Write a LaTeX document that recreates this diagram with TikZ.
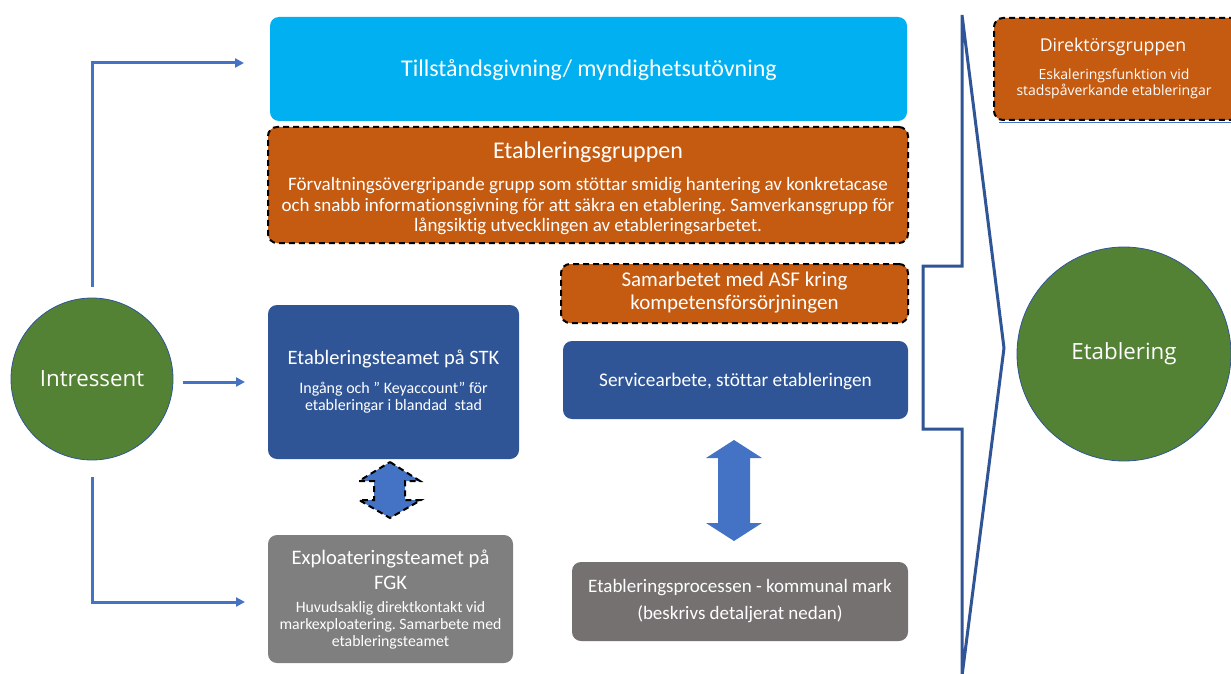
\documentclass[tikz,border=0pt]{standalone}
\usepackage{fontspec}
\setmainfont{Carlito}[Ligatures=NoCommon]
\newfontfamily\vfont{Open Sans}
\usetikzlibrary{arrows.meta}
\definecolor{cyanbox}{HTML}{00B0F0}
\definecolor{orangebox}{HTML}{C55A11}
\definecolor{darkblue}{HTML}{2F5597}
\definecolor{midblue}{HTML}{4472C4}
\definecolor{greybox}{HTML}{7F7F7F}
\definecolor{darkgrey}{HTML}{767171}
\definecolor{leafgreen}{HTML}{548235}
\newcommand{\fs}[2]{\fontsize{#1}{#2}\selectfont}
\frenchspacing
\begin{document}
\begin{tikzpicture}[x=1pt,y=-1pt,
  box/.style={rounded corners=9pt, inner sep=0pt, text=white},
  dashbox/.style={box, draw=black, line width=2pt, dash pattern=on 6pt off 4pt},
  txt/.style={text=white, align=center, inner sep=0pt},
  circ/.style={circle, fill=leafgreen, draw=darkblue, line width=0.8pt, inner sep=0pt, text=white},
  conn/.style={draw=midblue, line width=3pt, -{Triangle[length=9pt,width=9pt]}},
  blockarrow/.style={fill=midblue}
]
\useasboundingbox (0,0) rectangle (1231,674);

% chevron bracket
\draw[darkblue, line width=3pt, line join=miter, fill=white]
  (962,15) -- (1004,348) -- (962,676) -- (962,429) -- (923,429) -- (923,266) -- (962,266) -- cycle;

% boxes
\node[box, fill=cyanbox, minimum width=637pt, minimum height=104pt] (tills) at (588.5,69) {};
\node[txt, font=\fs{24}{28}] (tillstxt) at (589,70) {Tillståndsgivning/ myndighetsutövning};

\node[dashbox, fill=orangebox, minimum width=640pt, minimum height=116pt] (etgr) at (588,185) {};
\node[txt, font=\fs{24}{28}] (etgrtitle) at (588,152.5) {Etableringsgruppen};
\node[txt, font=\fs{19}{20.5}] (etgrbody) at (588,206.5) {Förvaltningsövergripande grupp som stöttar smidig hantering av konkretacase\\och snabb informationsgivning för att säkra en etablering. Samverkansgrupp för\\långsiktig utvecklingen av etableringsarbetet.};

\node[dashbox, fill=orangebox, minimum width=347pt, minimum height=59pt] (asf) at (734.5,293.5) {};
\node[txt, font=\fs{21}{22.5}] (asftxt) at (734.5,292.5) {Samarbetet med ASF kring\\kompetensförsörjningen};

\node[box, fill=darkblue, minimum width=251pt, minimum height=154pt] (stk) at (393.5,382) {};
\node[txt, font=\fs{20.5}{24}] (stktitle) at (393.5,358.5) {Etableringsteamet på STK};
\node[txt, font=\fs{16}{17}] (stkbody) at (393.5,397.5) {Ingång och ” Keyaccount” för\\etableringar i blandad\ \ stad};

\node[box, fill=darkblue, minimum width=345pt, minimum height=78pt] (serv) at (735.5,380) {};
\node[txt, font=\fs{19.3}{22}] (servtxt) at (735.5,381.5) {Servicearbete, stöttar etableringen};

\node[box, fill=greybox, minimum width=245pt, minimum height=128pt] (expl) at (390.5,599) {};
\node[txt, font=\fs{20.6}{25}] (expltitle) at (390.5,570) {Exploateringsteamet på\\FGK};
\node[txt, font=\fs{15.8}{17}] (explbody) at (390.5,625.5) {Huvudsaklig direktkontakt vid\\markexploatering. Samarbete med\\etableringsteamet};

\node[box, fill=darkgrey, minimum width=336pt, minimum height=79pt] (proc) at (740,601.5) {};
\node[txt, font=\fs{19}{27}] (proctxt) at (740,601) {Etableringsprocessen - kommunal mark\\(beskrivs detaljerat nedan)};

% Direktorsgruppen (cut at the right edge)
\begin{scope}
\clip (0,0) rectangle (1231,674);
\node[dashbox, fill=orangebox, minimum width=260pt, minimum height=102pt, anchor=north west] (dir) at (993,17) {};
\draw[midblue, line width=0.8pt] ([xshift=6pt,yshift=-1pt]dir.south west) -- ([yshift=-1pt]dir.south east);
\end{scope}
\node[txt, font=\vfont\fs{17.7}{20}] (dirtitle) at (1113,47) {Direktörsgruppen};
\node[txt, font=\vfont\fs{14}{16}] (dirbody) at (1114,83.5) {Eskaleringsfunktion vid\\stadspåverkande etableringar};

% circles
\node[circ, minimum size=162pt, font=\vfont\fs{22.3}{26}] (intr) at (92,379) {Intressent};
\node[circ, minimum size=214pt, font=\vfont\fs{22.3}{26}] (etab) at (1124,354) {Etablering};

% connectors
\coordinate (c1s) at (92,287);
\coordinate (c1e) at (244,63);
\coordinate (c2s) at (183,382);
\coordinate (c2e) at (245,382);
\coordinate (c3s) at (92,477);
\coordinate (c3e) at (245,602);
\draw[conn] (c1s) |- (c1e);
\draw[conn] (c2s) -- (c2e);
\draw[conn] (c3s) |- (c3e);

% dashed double arrow between STK and FGK
\draw[blockarrow, draw=black, line width=2pt, dash pattern=on 6pt off 4pt, line join=miter]
  (390,462) -- (420,481) -- (405,481) -- (405,500) -- (421,500) -- (390,518)
  -- (359,500) -- (374,500) -- (374,481) -- (359,481) -- cycle;

% solid double arrow between service and process
\path[blockarrow]
  (734,440) -- (762,458) -- (750,458) -- (750,523) -- (762,523) -- (734,541)
  -- (706,523) -- (718,523) -- (718,458) -- (706,458) -- cycle;
\end{tikzpicture}
\end{document}
